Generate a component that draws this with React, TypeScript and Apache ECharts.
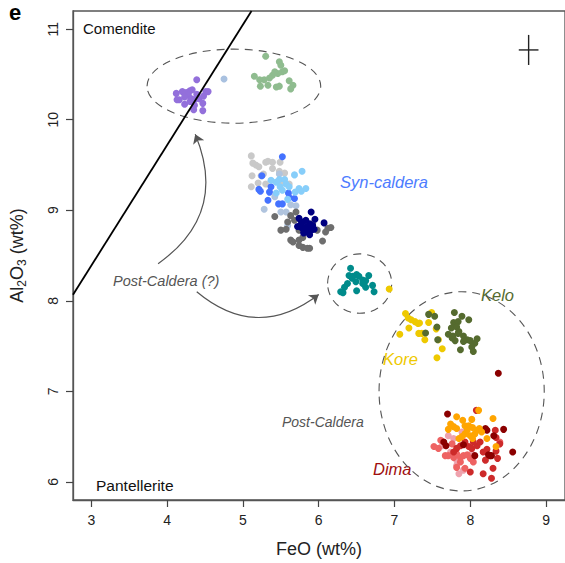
import React, { useEffect, useRef } from 'react';
import * as echarts from 'echarts';

// ---- data (FeO wt%, Al2O3 wt%) ----
const xTicks = [3, 4, 5, 6, 7, 8, 9];
const yTicks = [6, 7, 8, 9, 10, 11];

const purple = [[4.39,10.44],[4.12,10.29],[4.20,10.31],[4.25,10.30],[4.30,10.32],[4.33,10.33],[4.28,10.27],[4.23,10.25],[4.16,10.22],[4.13,10.22],[4.32,10.23],[4.36,10.22],[4.42,10.23],[4.48,10.26],[4.51,10.31],[4.54,10.31],[4.47,10.18],[4.36,10.16],[4.47,10.10],[4.35,10.11],[4.23,10.17],[4.30,10.20],[4.39,10.28]];
const paleBlue = [[4.75,10.45]];
const green = [[5.30,10.70],[5.48,10.64],[5.50,10.60],[5.52,10.53],[5.46,10.51],[5.39,10.49],[5.42,10.53],[5.35,10.46],[5.28,10.44],[5.22,10.44],[5.15,10.48],[5.23,10.37],[5.33,10.38],[5.44,10.36],[5.48,10.37],[5.61,10.43],[5.66,10.38],[5.63,10.34],[5.55,10.54]];

const synLightGray = [[5.11,9.60],[5.13,9.52],[5.17,9.50],[5.21,9.48],[5.30,9.53],[5.33,9.54],[5.39,9.46],[5.12,9.38],[5.24,9.38],[5.27,9.40],[5.11,9.26],[5.39,9.53],[5.48,9.43],[5.52,9.30],[5.61,9.29],[5.55,9.41],[5.20,9.30],[5.30,9.29],[5.49,9.53]];
const synSteel = [[5.28,9.01],[5.48,9.40],[5.63,9.06],[5.50,8.98],[5.57,8.98],[5.42,9.15],[5.59,8.83],[5.70,9.05]];
const synBlue = [[5.52,9.59],[5.25,9.38],[5.21,9.23],[5.23,9.21],[5.37,9.26],[5.35,9.20],[5.33,9.11],[5.47,9.07],[5.52,9.07],[5.60,9.19],[5.68,9.13],[5.61,9.14]];
const synSky = [[5.78,9.43],[5.68,9.39],[5.48,9.34],[5.55,9.34],[5.44,9.31],[5.37,9.33],[5.57,9.29],[5.49,9.26],[5.61,9.26],[5.74,9.24],[5.83,9.24],[5.69,9.20],[5.77,9.21],[5.52,9.22],[5.59,9.12],[5.44,9.19]];
const synDarkGray = [[5.70,8.98],[5.63,8.94],[5.42,8.93],[5.68,8.89],[5.59,8.87],[5.50,8.78],[5.57,8.79],[5.74,8.78],[5.63,8.67],[5.66,8.65],[5.74,8.67],[5.79,8.59],[5.85,8.58],[5.88,8.58],[6.05,8.66],[6.12,8.80],[6.16,8.81],[6.09,8.76],[5.92,8.85],[5.98,8.78],[5.74,8.61],[5.79,8.70]];
const synNavy = [[5.90,8.98],[5.95,8.90],[6.07,8.86],[5.74,8.91],[5.79,8.87],[5.83,8.89],[5.88,8.85],[5.72,8.82],[5.77,8.81],[5.81,8.80],[5.85,8.82],[5.90,8.78],[5.94,8.79],[5.83,8.76],[5.77,8.85],[5.92,8.83],[5.88,8.73],[5.80,8.75]];

const teal = [[6.42,8.36],[6.40,8.28],[6.45,8.27],[6.50,8.29],[6.53,8.27],[6.58,8.23],[6.62,8.22],[6.66,8.28],[6.49,8.21],[6.38,8.19],[6.34,8.15],[6.29,8.10],[6.32,8.09],[6.50,8.11],[6.62,8.15],[6.71,8.17],[6.73,8.10],[6.44,8.25],[6.58,8.19]];

const kore = [[6.93,8.13],[7.145,7.86],[7.18,7.81],[7.22,7.79],[7.27,7.77],[7.31,7.75],[7.33,7.755],[7.19,7.70],[7.07,7.63],[7.32,7.64],[7.36,7.64],[7.40,7.57],[7.45,7.76],[7.49,7.87],[7.55,7.69],[7.58,7.57],[7.63,7.47],[7.56,7.37]];
const kelo = [[7.45,7.85],[7.53,7.83],[7.79,7.87],[7.89,7.83],[7.98,7.79],[7.78,7.76],[7.84,7.77],[7.75,7.70],[7.82,7.71],[7.85,7.66],[7.71,7.63],[7.77,7.61],[7.80,7.56],[7.76,7.59],[7.91,7.61],[7.96,7.57],[8.00,7.56],[8.06,7.53],[8.09,7.58],[8.02,7.49],[8.04,7.44],[7.87,7.46],[7.41,7.645],[7.56,7.71],[7.57,7.57],[7.91,7.55],[7.84,7.64]];

const dimaPink = [[7.71,6.51],[7.78,6.48],[7.82,6.18],[7.85,6.09],[7.91,6.13],[8.02,6.31],[7.74,6.33],[7.82,6.24],[7.63,6.40],[7.89,6.55]];
const dimaSalmon = [[7.61,6.46],[7.52,6.39],[7.58,6.37],[7.67,6.29],[7.71,6.29],[7.78,6.27],[7.82,6.31],[7.87,6.27],[7.91,6.29],[7.96,6.30],[8.04,6.22],[7.93,6.15],[7.87,6.22],[7.82,6.16],[8.39,6.44],[7.76,6.42],[8.00,6.26]];
const dimaCrimson = [[8.08,6.79],[8.33,6.57],[8.34,6.49],[8.39,6.42],[8.36,6.26],[8.30,6.15],[8.28,6.04],[8.17,6.09],[8.00,6.11],[7.87,6.40],[7.93,6.44],[7.98,6.39],[8.02,6.37],[8.09,6.40],[8.13,6.44],[7.82,6.37],[8.17,6.33],[8.22,6.36],[8.34,6.34],[7.78,6.33],[8.04,6.44],[8.20,6.24]];
const dimaDarkRed = [[8.37,7.20],[7.70,6.75],[8.20,6.59],[8.44,6.58],[7.68,6.40],[7.65,6.44],[8.28,6.29],[8.24,6.30],[8.26,6.29],[8.56,6.33],[8.06,6.29],[7.91,6.41],[8.31,6.51],[8.22,6.57]];
const dimaOrange = [[7.82,6.72],[7.90,6.68],[8.02,6.69],[7.74,6.64],[7.78,6.61],[7.71,6.58],[7.82,6.59],[7.93,6.62],[7.98,6.62],[8.03,6.60],[8.09,6.57],[8.12,6.59],[8.15,6.55],[8.06,6.53],[8.00,6.51],[7.93,6.53],[7.85,6.48],[8.03,6.48],[8.22,6.48],[8.30,6.70],[8.34,6.39],[7.89,6.50],[8.11,6.79],[7.96,6.57]];

// dashed group outlines: [centre FeO, centre Al2O3, half-width, half-height]
const ellipses = [[4.88,10.37,1.146,0.409],[6.54,8.19,0.423,0.328],[7.886,7.00,1.09,1.10]];
// comendite / pantellerite dividing line end points
const divider = [[2.757,8.067],[5.113,11.2]];
// analytical uncertainty cross: [FeO, Al2O3, ±FeO, ±Al2O3]
const errorCross = [[8.77,10.77,0.13,0.166]];
// curved arrows: [from, to]
const arrows = [[[3.88,8.41],[4.37,9.84]],[[4.39,8.10],[6.0,8.07]]];

const FONT = '"Liberation Sans", Arial, Helvetica, sans-serif';

const scatter = (name: string, data: number[][], color: string, z = 3) => ({
  name, type: 'scatter', data, symbol: 'circle', symbolSize: 7, z,
  itemStyle: { color, opacity: 1 }, silent: true,
});

export default function App() {
  const ref = useRef<HTMLDivElement>(null);
  useEffect(() => {
    const chart = echarts.init(ref.current!, null, { renderer: 'svg' });
    chart.setOption({
      animation: false,
      backgroundColor: '#ffffff',
      grid: { left: 73, top: 11, width: 494, height: 489, show: true, borderColor: '#555', borderWidth: 1.3, backgroundColor: 'transparent' },
      xAxis: {
        type: 'value', min: 2.757, max: 9.25,
        name: 'FeO (wt%)', nameLocation: 'middle', nameGap: 40,
        nameTextStyle: { fontSize: 18, color: '#222', fontFamily: FONT },
        axisLine: { show: true, lineStyle: { color: '#555', width: 1.3 } },
        axisTick: { show: true, length: 7, lineStyle: { color: '#444', width: 1.2 }, customValues: xTicks },
        axisLabel: { fontSize: 14, color: '#222', fontFamily: FONT, margin: 13, customValues: xTicks },
        splitLine: { show: false },
      },
      yAxis: {
        type: 'value', min: 5.8, max: 11.2,
        name: '{a|Al}{s|2}{a|O}{s|3}{a| (wt%)}', nameLocation: 'middle', nameGap: 45, nameRotate: 90,
        nameTextStyle: {
          color: '#222', fontFamily: FONT,
          rich: {
            a: { fontSize: 18, fontFamily: FONT, color: '#222', lineHeight: 22 },
            s: { fontSize: 12, fontFamily: FONT, color: '#222', lineHeight: 12, verticalAlign: 'bottom' },
          },
        },
        axisLine: { show: true, lineStyle: { color: '#555', width: 1.3 } },
        axisTick: { show: true, length: 7, lineStyle: { color: '#444', width: 1.2 }, customValues: yTicks },
        axisLabel: { fontSize: 14, color: '#222', fontFamily: FONT, margin: 13, rotate: 90, customValues: yTicks },
        splitLine: { show: false },
      },
      series: [
        {
          type: 'custom', name: 'groups', silent: true, z: 1, data: ellipses,
          renderItem: (params: any, api: any) => {
            const c = api.coord([api.value(0), api.value(1)]);
            const e = api.coord([api.value(0) + api.value(2), api.value(1) + api.value(3)]);
            return {
              type: 'ellipse',
              shape: { cx: c[0], cy: c[1], rx: Math.abs(e[0] - c[0]), ry: Math.abs(e[1] - c[1]) },
              style: { fill: 'none', stroke: '#555', lineWidth: 1.1, lineDash: [8, 6] },
            };
          },
        },
        {
          type: 'custom', name: 'error', silent: true, z: 5, data: errorCross,
          renderItem: (params: any, api: any) => {
            const x = api.value(0), y = api.value(1), dx = api.value(2), dy = api.value(3);
            const l = api.coord([x - dx, y]), r = api.coord([x + dx, y]);
            const t = api.coord([x, y + dy]), b = api.coord([x, y - dy]);
            const st = { stroke: '#222', lineWidth: 1.4 };
            return {
              type: 'group',
              children: [
                { type: 'line', shape: { x1: l[0], y1: l[1], x2: r[0], y2: r[1] }, style: st },
                { type: 'line', shape: { x1: t[0], y1: t[1], x2: b[0], y2: b[1] }, style: st },
              ],
            };
          },
        },
        scatter('Comendite ', purple, '#9370db'),
        scatter('pale', paleBlue, '#a9c1e0'),
        scatter('green', green, '#8fbc8f'),
        scatter('syn-lightgray', synLightGray, '#c9c9c9'),
        scatter('syn-steel', synSteel, '#b0c4de'),
        scatter('syn-blue', synBlue, '#4472ff'),
        scatter('syn-sky', synSky, '#87cefa'),
        scatter('syn-darkgray', synDarkGray, '#6e6e6e'),
        scatter('syn-navy', synNavy, '#000080'),
        scatter('teal', teal, '#008b8b'),
        scatter('kore', kore, '#eec900'),
        scatter('kelo', kelo, '#556b2f'),
        scatter('dima-pink', dimaPink, '#eea2ad'),
        scatter('dima-salmon', dimaSalmon, '#ee6363'),
        scatter('dima-crimson', dimaCrimson, '#cd2a2a'),
        scatter('dima-darkred', dimaDarkRed, '#8b0000'),
        scatter('dima-orange', dimaOrange, '#ffa500'),
        {
          type: 'line', name: 'divider', data: divider, symbol: 'none', z: 6, silent: true,
          lineStyle: { color: '#000', width: 1.8 },
        },
        {
          type: 'lines', coordinateSystem: 'cartesian2d', silent: true, z: 6,
          symbol: ['none', 'arrow'], symbolSize: 9,
          lineStyle: { color: '#555', width: 1.2, curveness: -0.4, opacity: 1 },
          data: arrows.map((c) => ({ coords: c })),
        },
      ],
      graphic: [
        { type: 'text', left: 9, top: 1, style: { text: 'e', fill: '#000', font: `bold 22px ${FONT}` } },
        { type: 'text', left: 83, top: 21, style: { text: 'Comendite', fill: '#111', font: `15px ${FONT}` } },
        { type: 'text', left: 96, top: 477, style: { text: 'Pantellerite', fill: '#111', font: `15.5px ${FONT}` } },
        { type: 'text', left: 340, top: 173, style: { text: 'Syn-caldera', fill: '#4d7cff', font: `italic 16.5px ${FONT}` } },
        { type: 'text', left: 481, top: 286, style: { text: 'Kelo', fill: '#556b2f', font: `italic 16.5px ${FONT}` } },
        { type: 'text', left: 383, top: 350, style: { text: 'Kore', fill: '#eec900', font: `italic 16.5px ${FONT}` } },
        { type: 'text', left: 373, top: 460, style: { text: 'Dima', fill: '#a00f0f', font: `italic 16.5px ${FONT}` } },
        { type: 'text', left: 282, top: 415, style: { text: 'Post-Caldera', fill: '#555', font: `italic 14px ${FONT}` } },
        { type: 'text', left: 113, top: 273, style: { text: 'Post-Caldera (?)', fill: '#555', font: `italic 14.5px ${FONT}` } },
      ],
    });
    return () => chart.dispose();
  }, []);
  return <div ref={ref} style={{ position: 'absolute', left: 0, top: 0, width: 565, height: 563, background: '#fff' }} />;
}
